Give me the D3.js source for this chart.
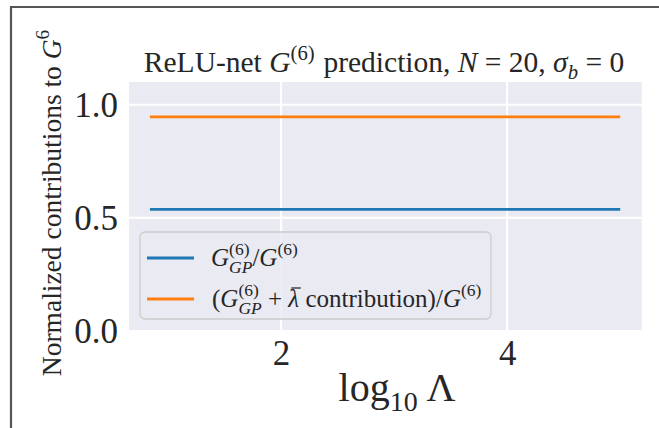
<!DOCTYPE html>
<html><head><meta charset="utf-8">
<script src="https://cdn.jsdelivr.net/npm/d3@7"></script>
<style>
html,body{margin:0;padding:0;background:#fff;}
svg text{font-family:"Liberation Serif",serif;fill:#262626;white-space:pre;}
</style></head>
<body><svg id="c" width="659" height="428"></svg>
<script>
// ---- data ----
const logLambda = [0.84, 1.5, 2.0, 2.5, 3.0, 3.5, 4.0, 4.5, 5.0];
const gpRatio   = [0.537, 0.537, 0.537, 0.537, 0.537, 0.537, 0.537, 0.537, 0.537];
const gpLambdaRatio = [0.946, 0.946, 0.946, 0.946, 0.946, 0.946, 0.946, 0.946, 0.946];
const xTicks = [2, 4];
const yTicks = [0.0, 0.5, 1.0];
const yTickLabels = ["0.0", "0.5", "1.0"];

const svg = d3.select("#c");
const W = 659, H = 428;
const plot = {l: 129, r: 641.7, t: 82, b: 331};
const x = d3.scaleLinear().domain([0.655, 5.19]).range([plot.l, plot.r]);
const y = d3.scaleLinear().domain([0, 1.1]).range([plot.b, plot.t]);

// frame
svg.append("path").attr("d", `M11,${H} L11,7 L${W},7`).attr("fill","none")
  .attr("stroke","#555").attr("stroke-width",2.2);

// panel
svg.append("rect").attr("x",plot.l).attr("y",plot.t).attr("width",plot.r-plot.l)
  .attr("height",plot.b-plot.t).attr("fill","#EAEAF2");

const grid = svg.append("g");
grid.selectAll("line.x").data(xTicks).join("line").attr("x1",d=>x(d)).attr("x2",d=>x(d))
  .attr("y1",plot.t).attr("y2",plot.b).attr("stroke","#fff").attr("stroke-width",2);
grid.selectAll("line.y").data(yTicks).join("line").attr("y1",d=>y(d)).attr("y2",d=>y(d))
  .attr("x1",plot.l).attr("x2",plot.r).attr("stroke","#fff").attr("stroke-width",2);

// axes (tick labels via d3 axes, no domain/tick lines)
const xAxis = svg.append("g").attr("transform",`translate(0,${plot.b})`)
  .call(d3.axisBottom(x).tickValues(xTicks).tickSize(0).tickPadding(9).tickFormat(d3.format("d")));
const yAxis = svg.append("g").attr("transform",`translate(${plot.l},0)`)
  .call(d3.axisLeft(y).tickValues(yTicks).tickSize(0).tickPadding(11).tickFormat((d,i)=>yTickLabels[i]));
[xAxis,yAxis].forEach(a=>{a.select(".domain").remove();
  a.selectAll("text").attr("font-family","Liberation Serif").attr("font-size",35).attr("fill","#262626");});
xAxis.selectAll("text").attr("dy","0.72em");
yAxis.selectAll("text").attr("dy","0.34em");

// lines
const line = d3.line().x((d,i)=>x(logLambda[i])).y(d=>y(d));
svg.append("path").datum(gpRatio).attr("d",line).attr("fill","none").attr("stroke","#1f77b4").attr("stroke-width",2.8);
svg.append("path").datum(gpLambdaRatio).attr("d",line).attr("fill","none").attr("stroke","#ff7f0e").attr("stroke-width",2.8);

// math text helper
function mathText(parent, px, py, size, segs, anchor){
  const g = parent.append("g");
  let cx = 0, prevStart = 0, prevW = 0;
  segs.forEach(s=>{
    if (s.gap !== undefined){ cx += s.gap*size; return; }
    if (s.bar){ // overbar above previous glyph
      g.append("line").attr("x1", prevStart + s.x0*size).attr("x2", prevStart + s.x1*size)
        .attr("y1", s.dy*size).attr("y2", s.dy*size).attr("stroke","#262626").attr("stroke-width",size*0.05);
      return;
    }
    const start = s.stack ? prevStart : cx;
    const t = g.append("text").attr("xml:space","preserve")
      .attr("font-size", size*(s.s||1))
      .attr("font-style", s.i ? "italic" : "normal")
      .attr("x", start).attr("y", (s.dy||0)*size).text(s.t);
    const w = t.node().getComputedTextLength();
    if (s.stack) cx = Math.max(cx, start + w);
    else { prevStart = start; prevW = w; cx = start + w; }
  });
  let ox = px;
  if (anchor === "middle") ox = px - cx/2;
  g.attr("transform", `translate(${ox},${py})`);
  return {g, width: cx};
}

// title
mathText(svg, 384, 72, 29.5, [
  {t:"ReLU-net "},{t:"G",i:true},{t:"(6)",s:0.7,dy:-0.42},{gap:0.05},{t:" prediction, "},
  {t:"N",i:true},{t:" = 20, "},{t:"σ",i:true},{t:"b",i:true,s:0.7,dy:0.22},{t:" = 0"}
], "middle");

// x label
mathText(svg, 397, 401, 40, [
  {t:"log"},{t:"10",s:0.7,dy:0.25},{gap:0.22},{t:"Λ"}
], "middle");

// y label
const yl = svg.append("g").attr("transform","translate(61,203) rotate(-90)");
mathText(yl, 0, 0, 27.5, [
  {t:"Normalized contributions to "},{t:"G",i:true},{t:"6",s:0.7,dy:-0.42}
], "middle");

// legend
svg.append("rect").attr("x",140).attr("y",232).attr("width",351).attr("height",87)
  .attr("rx",5).attr("fill","#EAEAF2").attr("fill-opacity",0.8).attr("stroke","#cccccc").attr("stroke-width",1.3);
const legendItems = [{c:"#1f77b4", y:258}, {c:"#ff7f0e", y:299}];
svg.selectAll("line.leg").data(legendItems).join("line").attr("x1",147).attr("x2",194)
  .attr("y1",d=>d.y).attr("y2",d=>d.y).attr("stroke",d=>d.c).attr("stroke-width",2.8);
mathText(svg, 211, 266, 25, [
  {t:"G",i:true},{t:"(6)",s:0.7,dy:-0.45},{t:"GP",i:true,s:0.7,dy:0.28,stack:true},{t:"/"},{t:"G",i:true},{t:"(6)",s:0.7,dy:-0.45}
]);
mathText(svg, 212, 307, 25, [
  {t:"("},{t:"G",i:true},{t:"(6)",s:0.7,dy:-0.45},{t:"GP",i:true,s:0.7,dy:0.28,stack:true},{t:" + "},
  {t:"λ",i:true},{bar:true,x0:0.12,x1:0.5,dy:-0.76},{t:" contribution)/"},{t:"G",i:true},{t:"(6)",s:0.7,dy:-0.45}
]);
</script></body></html>
